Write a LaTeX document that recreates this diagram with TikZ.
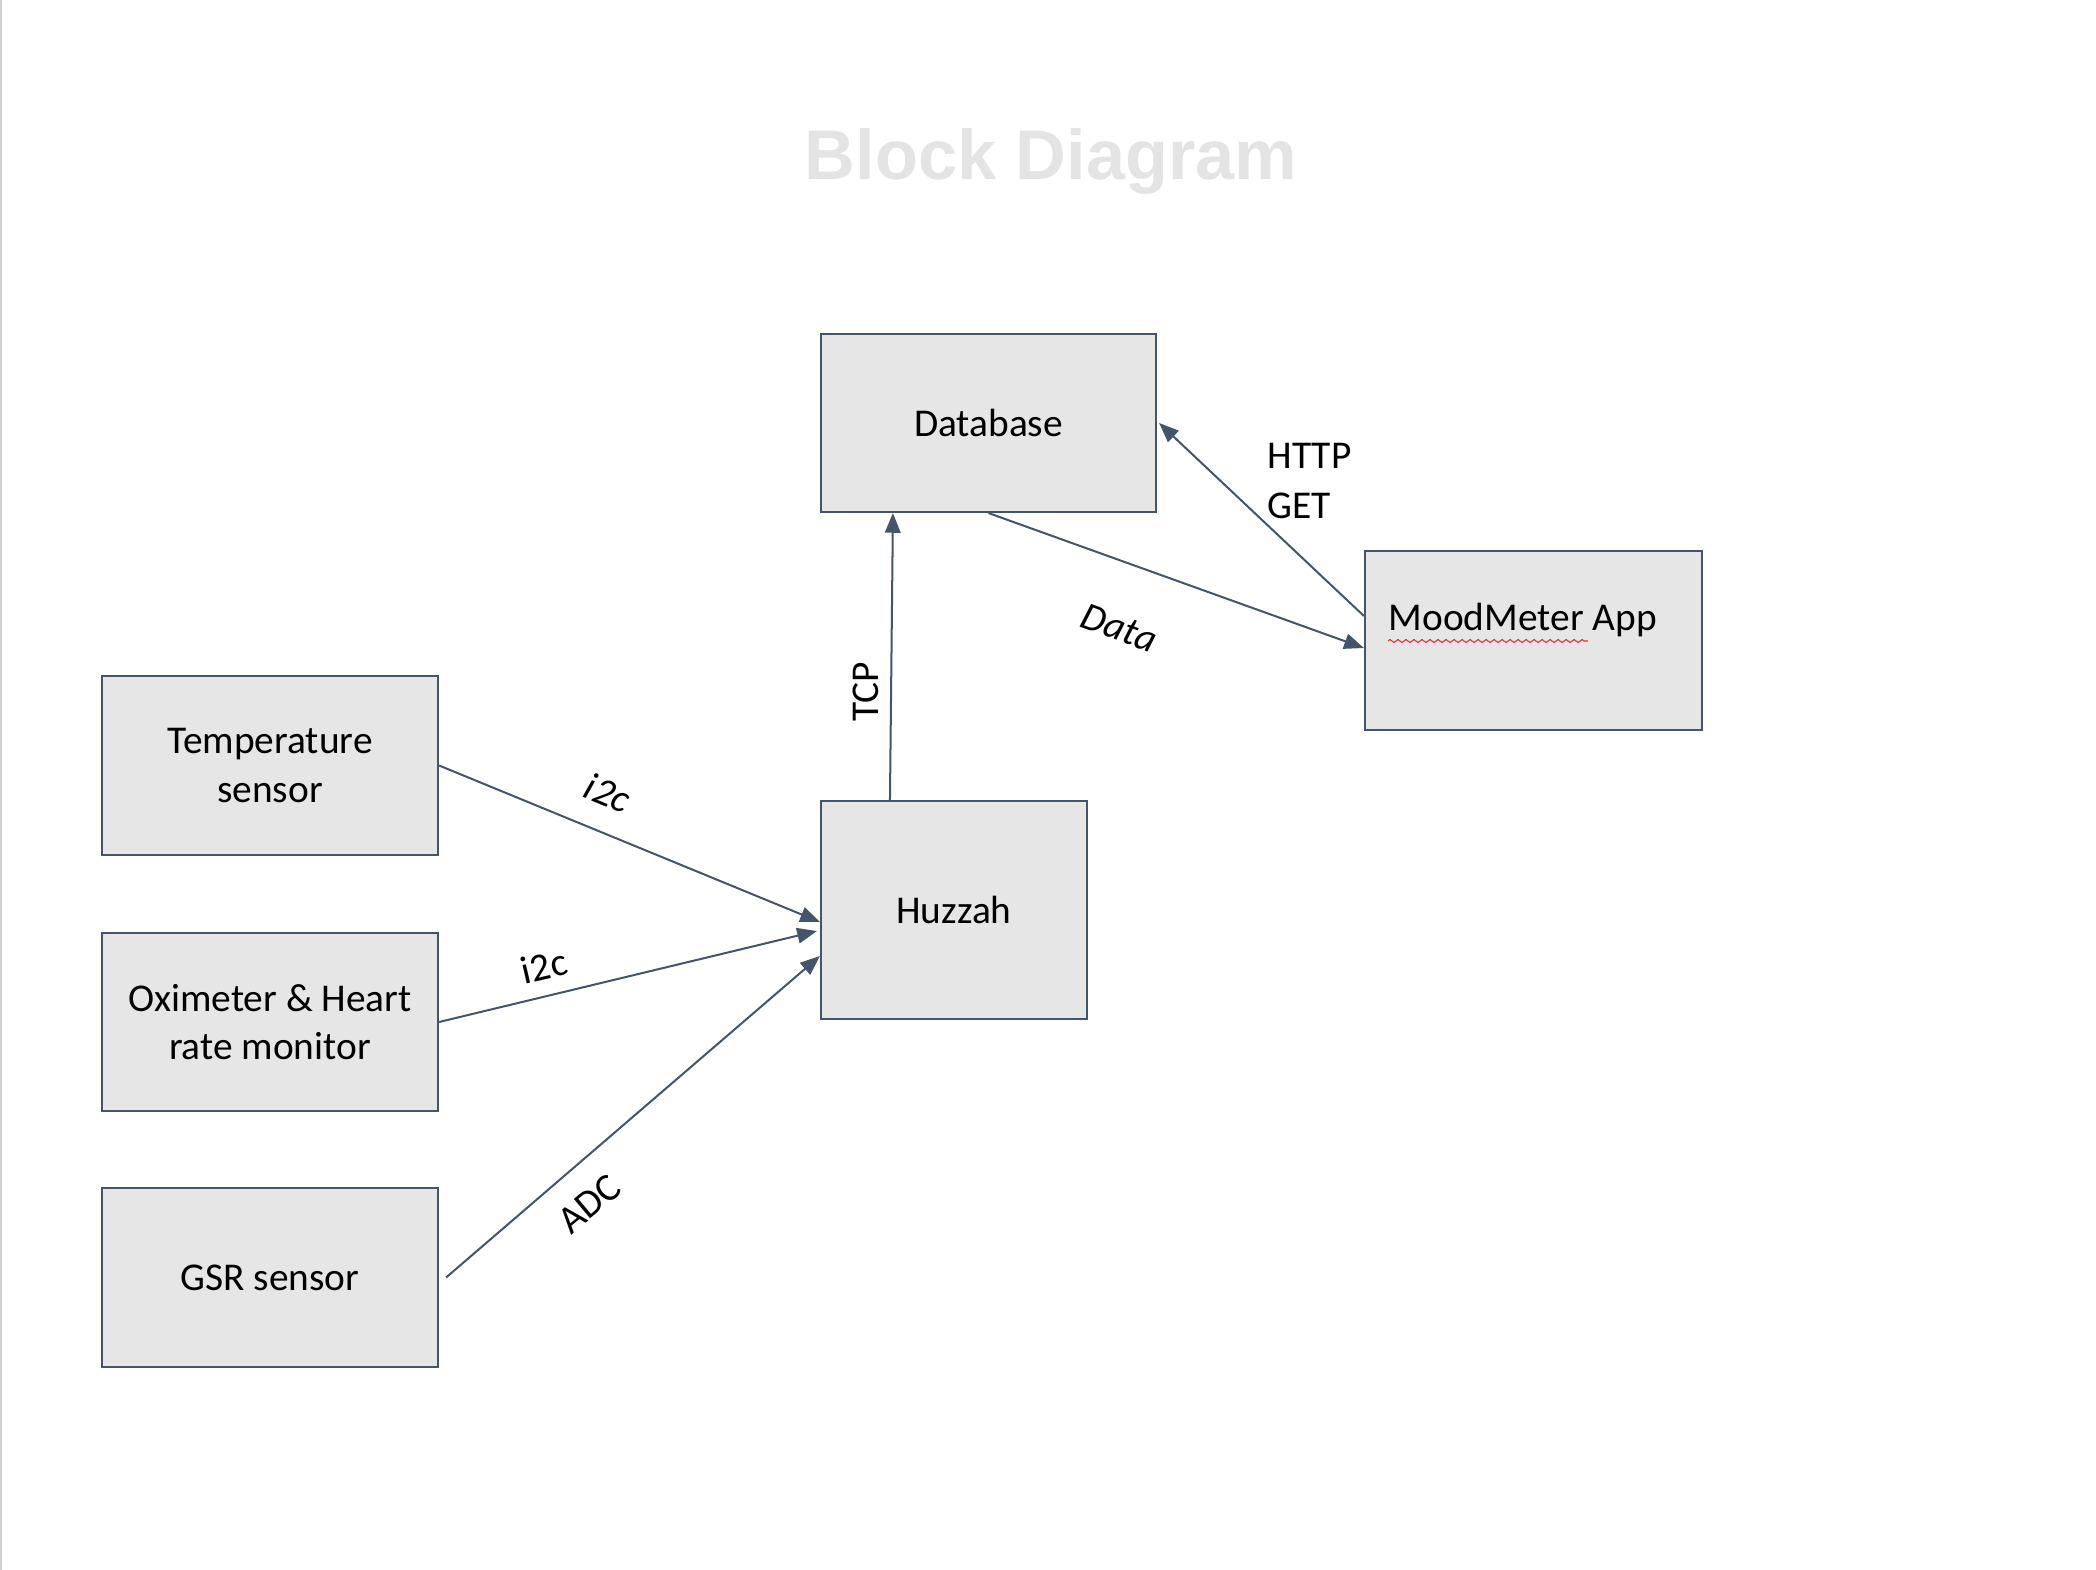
\documentclass[tikz,border=0pt]{standalone}
\usepackage{fontspec}
\setmainfont{Carlito}
\newfontfamily\titlefont{Liberation Sans}
\usepackage{xcolor}
\usetikzlibrary{arrows.meta}
\usetikzlibrary{decorations.pathmorphing}

\definecolor{slate}{HTML}{44546A}
\definecolor{boxfill}{HTML}{E6E6E6}
\definecolor{titlegray}{HTML}{E4E4E4}
\definecolor{edgegray}{HTML}{D0D0D0}
\definecolor{spellred}{HTML}{E0303A}

\tikzset{
	blk/.style={fill=boxfill, draw=slate, line width=0.57pt, shape=rectangle, align=center, inner sep=0pt},
	lbl/.style={inner sep=0pt, align=left},
	con/.style={draw=slate, line width=0.57pt, -{Triangle[length=5.6pt,width=4.4pt]}}
}

\begin{document}
\begin{tikzpicture}[x=0.01cm, y=-0.01cm, font=\fontsize{11.2}{13.7}\selectfont]
	\useasboundingbox (0,0) rectangle (2096,1570);
	\draw [edgegray, line width=0.6pt] (1,0) -- (1,1570);
	% title
	\node [lbl, anchor=base, text=titlegray, font=\titlefont\bfseries\fontsize{20}{24}\selectfont] (title) at (1051, 180) {Block Diagram};
	% blocks
	\node [blk, minimum width=3.35cm, minimum height=1.78cm] (db) at (988.5, 423) {Database};
	\node [blk, minimum width=3.37cm, minimum height=1.79cm] (app) at (1533.5, 640.5) {};
	\node [lbl, anchor=base west] (applbl) at (1388, 630) {MoodMeter App};
	\draw [spellred, line width=0.3pt, decorate, decoration={zigzag, segment length=0.08cm, amplitude=0.015cm}] (1388, 641) -- (1588, 641);
	\node [blk, minimum width=3.36cm, minimum height=1.79cm] (temp) at (270, 765.5) {Temperature\\sensor};
	\node [blk, minimum width=3.36cm, minimum height=1.78cm] (oxi) at (270, 1022) {Oximeter \& Heart\\rate monitor};
	\node [blk, minimum width=3.36cm, minimum height=1.79cm] (gsr) at (270, 1277.5) {GSR sensor};
	\node [blk, minimum width=2.66cm, minimum height=2.18cm] (huz) at (954, 910) {Huzzah};
	% connectors
	\draw [con] (temp.east) to ([yshift=-0.12cm]huz.west);
	\draw [con] (oxi.east) to ([xshift=-0.03cm, yshift=-0.21cm]huz.west);
	\draw [con] ([xshift=0.07cm]gsr.east) to ([yshift=-0.46cm]huz.west);
	\draw [con] ([xshift=-0.64cm]huz.north) to ([xshift=-0.955cm]db.south);
	\draw [con] (db.south) to ([yshift=-0.075cm]app.west);
	\draw [con] ([yshift=0.245cm]app.west) to ([xshift=0.02cm]db.east);
	% labels
	\node [lbl, rotate=-22.4] (i2ca) at (608, 793) {\itshape i2c};
	\node [lbl, rotate=13] (i2cb) at (544, 966) {i2c};
	\node [lbl, rotate=40] (adc) at (589, 1204) {ADC};
	\node [lbl, rotate=90] (tcp) at (866, 692) {TCP};
	\node [lbl, rotate=-20] (data) at (1119, 628) {\itshape Data};
	\node [lbl, anchor=west, font=\fontsize{11.2}{14.2}\selectfont] (http) at (1267, 481) {HTTP\\GET};
\end{tikzpicture}
\end{document}
